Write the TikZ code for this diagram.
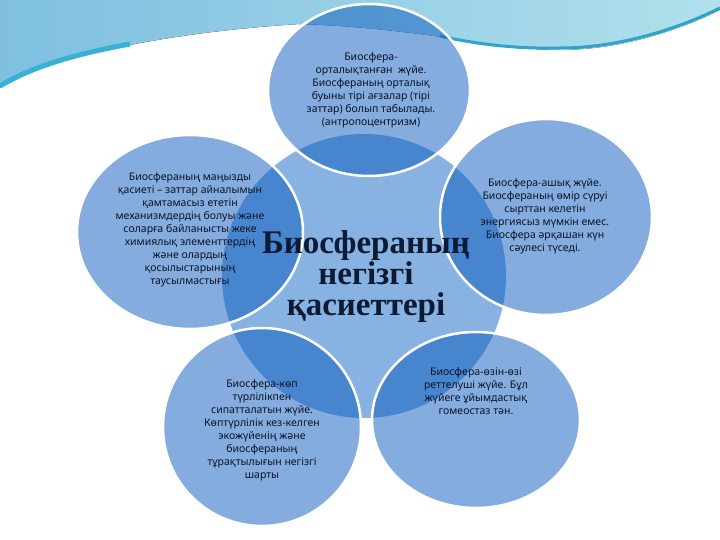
\documentclass[tikz,border=0pt]{standalone}
\usepackage{fontspec}
\setmainfont{Noto Sans}
\newfontfamily\titlefont{Liberation Serif}
\usetikzlibrary{shapes.geometric}
\definecolor{centralblue}{HTML}{88B2E1}
\definecolor{outerblue}{HTML}{0A5ABE}
\definecolor{textdark}{HTML}{0A1428}
\definecolor{titledark}{HTML}{0B1B36}
\definecolor{waveblue}{HTML}{7FBFE0}
\definecolor{wavelight}{HTML}{CDEAF3}
\definecolor{wavecyan}{HTML}{B0E0EC}
\definecolor{wavestripe}{HTML}{2FA3C8}
\definecolor{waveedge}{HTML}{38B0D8}
\tikzset{
  outerball/.style={ellipse, draw=white, line width=2.5pt, fill=outerblue,
    fill opacity=0.5, draw opacity=1, inner sep=0pt},
  smalltext/.style={align=center, text=textdark, inner sep=0pt,
    font=\fontsize{10.5}{13}\selectfont},
  titletext/.style={align=center, text=titledark, inner sep=0pt,
    font=\titlefont\bfseries\fontsize{33}{31}\selectfont}
}
\begin{document}
\begin{tikzpicture}[x=1pt,y=-1pt]
\useasboundingbox (0,0) rectangle (720,540);
\fill[white] (0,0) rectangle (720,540);
% decorative wave at the top
\fill[left color=waveblue, middle color=wavelight, right color=wavecyan]
  (0,0) -- (720,0) -- (720,10)
  .. controls (680,30) and (620,50) .. (560,50)
  .. controls (500,50) and (420,28) .. (300,24)
  .. controls (200,30) and (60,50) .. (0,88) -- cycle;
\draw[waveedge, line width=5pt]
  (0,86) .. controls (30,68) and (70,55) .. (130,44);
\draw[wavestripe, line width=3pt]
  (440,36) .. controls (480,45) and (520,49) .. (560,48)
  .. controls (620,48) and (680,28) .. (720,8);
% central circle
\node[circle, fill=centralblue, minimum size=284pt, inner sep=0pt] (center) at (364,276) {};
% outer circles
\node[outerball, minimum width=202pt, minimum height=172pt] (ctop) at (369,90) {};
\node[outerball, minimum width=226pt, minimum height=194pt] (cleft) at (190,232) {};
\node[outerball, minimum width=212pt, minimum height=196pt] (cright) at (546,217) {};
\node[outerball, minimum width=198pt, minimum height=198pt] (cbl) at (262,427) {};
\node[outerball, minimum width=208pt, minimum height=176pt] (cbr) at (476,420) {};
% texts
\node[smalltext] (ttop) at (371,90) {Биосфера-\\орталықтанған\ \ жүйе.\\Биосфераның орталық\\буыны тірі ағзалар (тірі\\заттар) болып табылады.\\(антропоцентризм)};
\node[smalltext] (tleft) at (190,230) {Биосфераның маңызды\\қасиеті – заттар айналымын\\қамтамасыз ететін\\механизмдердің болуы және\\соларға байланысты жеке\\химиялық элементтердің\\және олардың\\қосылыстарының\\таусылмастығы};
\node[smalltext] (tright) at (545,216) {Биосфера-ашық жүйе.\\Биосфераның өмір сүруі\\сырттан келетін\\энергиясыз мүмкін емес.\\Биосфера әрқашан күн\\сәулесі түседі.};
\node[smalltext] (tbl) at (262,430) {Биосфера-көп\\түрлілікпен\\сипатталатын жүйе.\\Көптүрлілік кез-келген\\экожүйенің және\\биосфераның\\тұрақтылығын негізгі\\шарты};
\node[smalltext] (tbr) at (476,391) {Биосфера-өзін-өзі\\реттелуші жүйе. Бұл\\жүйеге ұйымдастық\\гомеостаз тән.};
\node[titletext] (title) at (366,277) {Биосфераның\\негізгі\\қасиеттері};
\end{tikzpicture}
\end{document}
